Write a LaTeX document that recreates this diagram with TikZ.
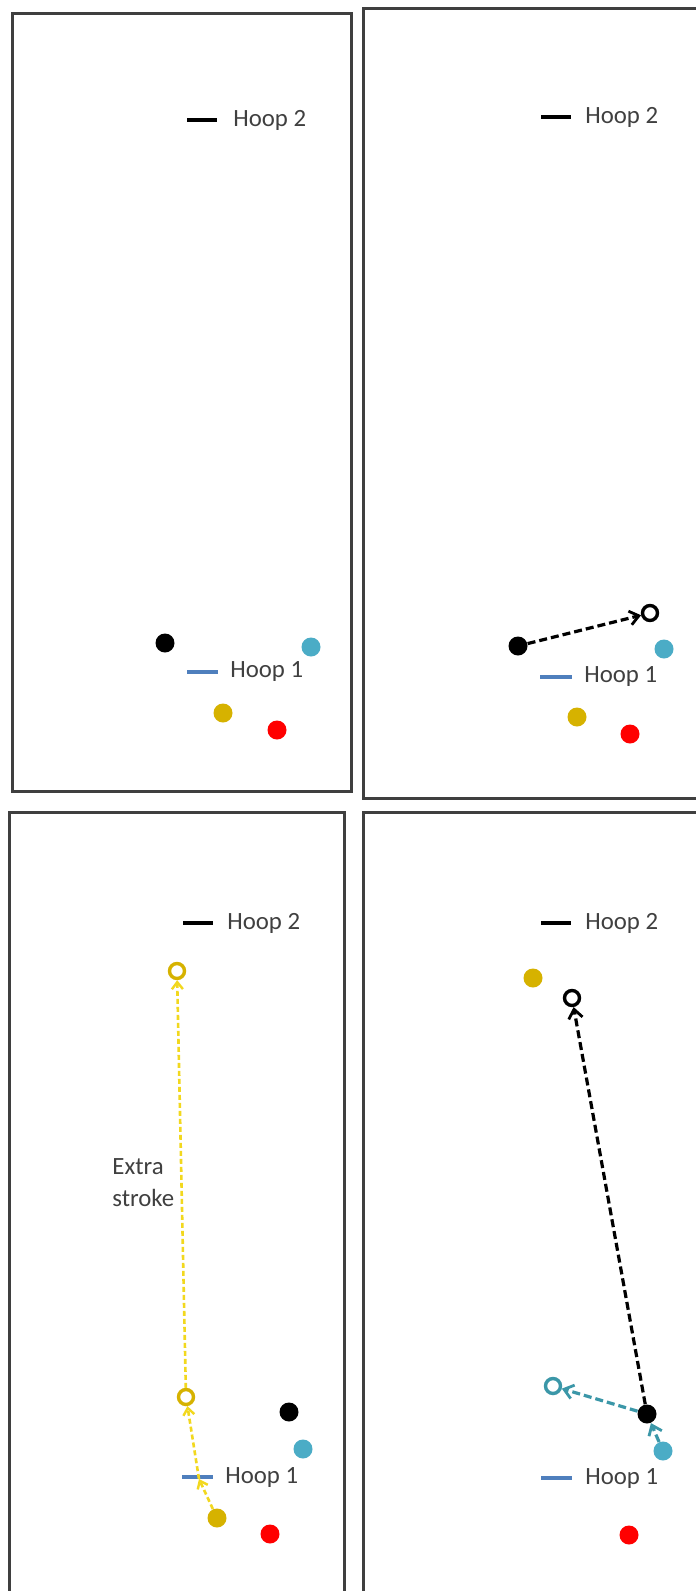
\documentclass[tikz,border=0pt]{standalone}
\usepackage{fontspec}
\setmainfont{Carlito}
\usepackage{tikz}
\usetikzlibrary{arrows.meta}
\definecolor{framegray}{HTML}{3F3F3F}
\definecolor{textgray}{HTML}{404040}
\definecolor{dotblue}{HTML}{4BACC6}
\definecolor{dotgold}{HTML}{D6B200}
\definecolor{dotred}{HTML}{FF0000}
\definecolor{hoopblue}{HTML}{4F7FBD}
\definecolor{strokeyellow}{HTML}{F2D81E}
\definecolor{moveteal}{HTML}{3B97A8}
\tikzset{
  panel/.style={draw=framegray, line width=1.5pt},
  dot/.style={circle, inner sep=0pt, minimum size=9.5pt},
  ring/.style={circle, inner sep=0pt, minimum size=7.5pt, line width=1.7pt, fill=white},
  hooplabel/.style={anchor=west, text=textgray, font=\fontsize{12.4}{15}\selectfont, inner sep=0pt},
  hoopline/.style={line width=1.7pt},
  movearrow/.style={-{Straight Barb[length=4.5pt, width=7pt, line width=1.4pt]}, line width=1.6pt, dash pattern=on 4pt off 2pt},
  extraarrow/.style={-{Straight Barb[length=3.5pt, width=5.5pt, line width=1.2pt]}, line width=1.3pt, strokeyellow, dash pattern=on 2.5pt off 1.5pt}
}
\begin{document}
\begin{tikzpicture}[x=0.5pt, y=-0.5pt]
  \useasboundingbox (0,0) rectangle (696,1591);
  \clip (0,0) rectangle (696,1591);
  \fill[white] (0,0) rectangle (696,1591);

  \draw[panel] (12,13) rectangle (351,791);
  \draw[panel] (363,8) rectangle (712,798);
  \draw[panel] (9,812) rectangle (344,1600);
  \draw[panel] (363,812) rectangle (712,1600);

  % panel 1
  \draw[hoopline] (187,120) -- (217,120);
  \node[hooplabel] (ha2) at (233,120) {Hoop 2};
  \draw[hoopline, hoopblue] (187,672) -- (218,672);
  \node[hooplabel] (ha1) at (230,672) {Hoop 1};
  \node[dot, fill=black] (ka) at (165,643) {};
  \node[dot, fill=dotblue] (ba) at (311,647) {};
  \node[dot, fill=dotgold] (ya) at (223,713) {};
  \node[dot, fill=dotred] (ra) at (277,730) {};

  % panel 2
  \draw[hoopline] (541,117) -- (571,117);
  \node[hooplabel] (hb2) at (585,117) {Hoop 2};
  \draw[hoopline, hoopblue] (540,677) -- (572,677);
  \node[hooplabel] (hb1) at (584,677) {Hoop 1};
  \node[dot, fill=black] (kb) at (518,646) {};
  \node[ring, draw=black] (kbe) at (650,613) {};
  \node[dot, fill=dotblue] (bb) at (664,649) {};
  \node[dot, fill=dotgold] (yb) at (577,717) {};
  \node[dot, fill=dotred] (rb) at (630,734) {};
  \draw[movearrow] (kb) -- (kbe);

  % panel 3
  \draw[hoopline] (183,923) -- (213,923);
  \node[hooplabel] (hc2) at (227,923) {Hoop 2};
  \draw[hoopline, hoopblue] (182,1477) -- (213,1477);
  \node[hooplabel] (hc1) at (225,1477) {Hoop 1};
  \node[dot, fill=black] (kc) at (289,1412) {};
  \node[dot, fill=dotblue] (bc) at (303,1449) {};
  \node[dot, fill=dotgold] (yc) at (217,1518) {};
  \node[dot, fill=dotred] (rc) at (270,1534) {};
  \node[ring, draw=dotgold] (ycm) at (186,1397) {};
  \node[ring, draw=dotgold] (yce) at (177,971) {};
  \coordinate (ycx) at (199,1479);
  \draw[extraarrow] (yc) -- (ycx);
  \draw[extraarrow] (ycx) -- (ycm);
  \draw[extraarrow] (ycm) -- (yce);
  \node[anchor=west, align=left, text=textgray, font=\fontsize{12.4}{16}\selectfont, inner sep=0pt] (xtra) at (112,1183) {Extra\\stroke};

  % panel 4
  \draw[hoopline] (541,923) -- (571,923);
  \node[hooplabel] (hd2) at (585,923) {Hoop 2};
  \draw[hoopline, hoopblue] (541,1478) -- (572,1478);
  \node[hooplabel] (hd1) at (585,1478) {Hoop 1};
  \node[dot, fill=dotgold] (yd) at (533,978) {};
  \node[ring, draw=black] (kde) at (572,998) {};
  \node[dot, fill=black] (kd) at (647,1414) {};
  \node[ring, draw=moveteal] (bde) at (553,1386) {};
  \node[dot, fill=dotblue] (bd) at (663,1451) {};
  \node[dot, fill=dotred] (rd) at (629,1535) {};
  \draw[movearrow] (kd) -- (kde);
  \draw[movearrow, moveteal] (bd) -- (kd);
  \draw[movearrow, moveteal] (kd) -- (bde);
\end{tikzpicture}
\end{document}
